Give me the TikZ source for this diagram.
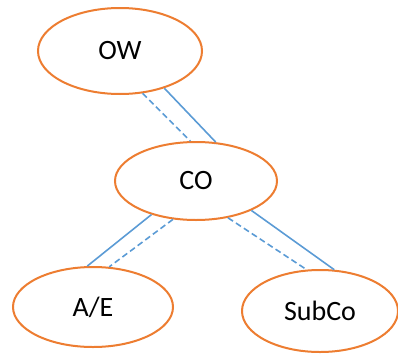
\documentclass[tikz,border=0pt]{standalone}
\usepackage{fontspec}
\setmainfont{Carlito}
\usetikzlibrary{shapes.geometric}
\definecolor{roleorange}{RGB}{237,125,49}
\definecolor{linkblue}{RGB}{91,155,213}
\tikzset{
  party/.style={ellipse,draw=roleorange,line width=2pt,fill=white,inner sep=0pt,font=\fontsize{28}{31}\selectfont},
  link/.style={draw=linkblue,line width=1.6pt},
  linkdash/.style={link,dash pattern=on 6pt off 3.5pt}
}
\begin{document}
\begin{tikzpicture}[x=1pt,y=-1pt]
\useasboundingbox (0,0) rectangle (398,356);
\node[party,minimum width=164pt,minimum height=86pt] (ow) at (120,51) {OW};
\node[party,minimum width=162pt,minimum height=78pt] (co) at (196,181) {CO};
\node[party,minimum width=160pt,minimum height=80pt] (ae) at (93,307) {A/E};
\node[party,minimum width=156pt,minimum height=82pt] (sub) at (320,311) {SubCo};
% owner to contractor
\draw[linkdash] (ow.-62) -- (co.98);
\draw[link] (ow.-40) -- (co.63);
% contractor to architect/engineer
\draw[link] (co.217) -- (ae.98);
\draw[linkdash] (co.-121) -- (ae.68);
% contractor to subcontractor
\draw[linkdash] (co.-49) -- (sub.108);
\draw[link] (co.-28) -- (sub.71);
\end{tikzpicture}
\end{document}
